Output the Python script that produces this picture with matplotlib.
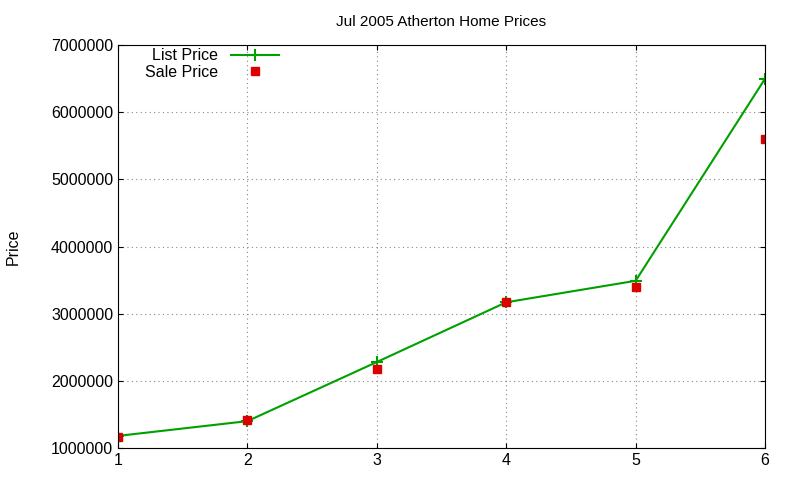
import matplotlib
matplotlib.use("Agg")
import matplotlib.pyplot as plt

plt.rcParams['font.family'] = ['Liberation Sans', 'DejaVu Sans']

x = [1, 2, 3, 4, 5, 6]
list_price = [1180000, 1400000, 2280000, 3170000, 3490000, 6500000]
sale_price = [1160000, 1420000, 2180000, 3170000, 3400000, 5600000]
yticks = [1000000, 2000000, 3000000, 4000000, 5000000, 6000000, 7000000]

fig = plt.figure(figsize=(8, 4.8), dpi=100)
ax = fig.add_axes([0.1475, 0.0667, 0.8088, 0.8393])
ax.plot(x, list_price, color="#00a000", lw=1.5, marker="+", ms=8, mew=1.5, label="List Price")
ax.plot(x, sale_price, ls="none", marker="s", ms=6, color="#dd0000", mec="#dd0000", label="Sale Price")
ax.set_xlim(1, 6)
ax.set_ylim(1000000, 7000000)
ax.set_yticks(yticks)
ax.set_yticklabels([str(v) for v in yticks])
ax.set_xticks(x)
ax.grid(True, ls=(0, (1, 3)), color="#888888", lw=0.8)
ax.tick_params(direction="in", labelsize=11.5, top=True, right=True)
ax.set_title("Jul 2005 Atherton Home Prices", fontsize=11, pad=14)
ax.set_ylabel("Price", fontsize=11.5, labelpad=22)
leg = ax.legend(loc="upper left", markerfirst=False, frameon=False, fontsize=11.5,
                handlelength=3, bbox_to_anchor=(0.025, 1.02), borderaxespad=0.3,
                labelspacing=0.1)
for t in leg.get_texts():
    t.set_ha("right")
fig.savefig("out.png")
